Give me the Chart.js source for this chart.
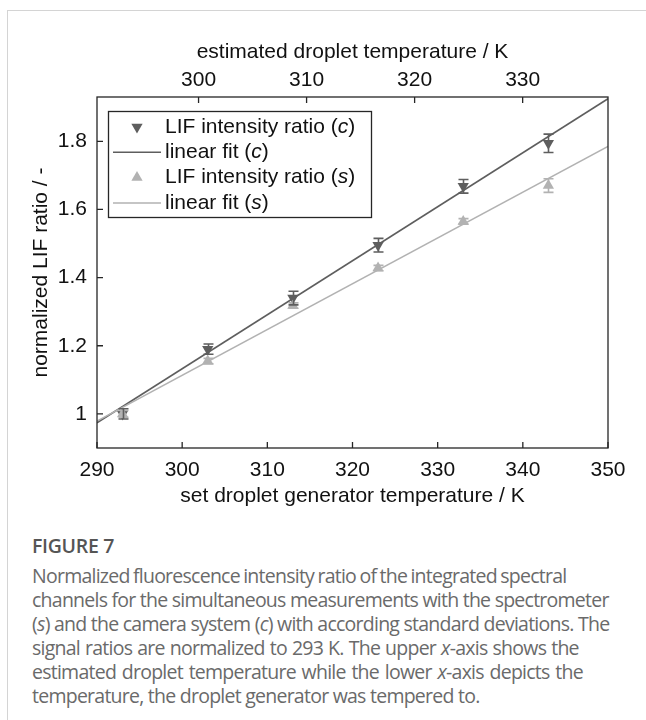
<!DOCTYPE html>
<html>
<head>
<meta charset="utf-8">
<script src="https://cdn.jsdelivr.net/npm/chart.js@4"></script>
<style>
  html, body { margin: 0; padding: 0; background: #fff; }
  #page { position: relative; width: 646px; height: 720px; overflow: hidden; }
  #card { position: absolute; left: 7px; top: 10px; right: -2px; bottom: -2px;
          border-left: 1px solid #d4d4d4; border-top: 1px solid #d4d4d4; }
  #wrap { position: absolute; left: 0; top: 0; width: 646px; height: 520px; }
  #caption { position: absolute; left: 32px; top: 534px; width: 610px;
             font-family: "Open Sans", sans-serif; color: #6a6a6a; font-size: 19.5px;
             line-height: 24px; letter-spacing: -0.75px; white-space: nowrap; }
  #caption .fig { color: #555; font-weight: 600; font-size: 19.5px; letter-spacing: -0.3px;
                  margin-bottom: 6px; }
  #caption .l1 { word-spacing: -1px; }
  #caption .l4 { word-spacing: 0.7px; }
  #caption .l5 { word-spacing: 1.4px; }
</style>
</head>
<body>
<div id="page">
  <div id="card"></div>
  <div id="wrap"><canvas id="fig7" width="646" height="520"></canvas></div>
  <div id="caption">
    <div class="fig">FIGURE 7</div>
    <div class="l1">Normalized fluorescence intensity ratio of the integrated spectral</div>
    <div>channels for the simultaneous measurements with the spectrometer</div>
    <div>(<i>s</i>) and the camera system (<i>c</i>) with according standard deviations. The</div>
    <div class="l4">signal ratios are normalized to 293 K. The upper <i>x</i>-axis shows the</div>
    <div class="l5">estimated droplet temperature while the lower <i>x</i>-axis depicts the</div>
    <div>temperature, the droplet generator was tempered to.</div>
  </div>
</div>
<script>
// set droplet generator temperature / K
const setTemps = [293, 303, 313, 323, 333, 343];

// camera system (c)
const ratioCam = [1.0, 1.19, 1.34, 1.495, 1.668, 1.794];
const errCam   = [0.015, 0.015, 0.02, 0.02, 0.02, 0.027];

// spectrometer (s)
const ratioSpec = [1.0, 1.155, 1.318, 1.428, 1.565, 1.67];
const errSpec   = [0.01, 0.008, 0.008, 0.008, 0.008, 0.02];

// linear fit end points at 290 K and 350 K
const fitX    = [290, 350];
const fitCam  = [0.974, 1.925];
const fitSpec = [0.979, 1.785];

const bottomTicks = [290, 300, 310, 320, 330, 340, 350];
const topTicks    = [300, 310, 320, 330];
const yTicks      = [1, 1.2, 1.4, 1.6, 1.8];

const DARK = '#5e5e5e';
const LIGHT = '#b2b2b2';
const AXIS = '#262626';
const FONT = '"Liberation Sans", Arial, sans-serif';

const pts = (xs, ys) => xs.map((x, i) => ({ x, y: ys[i] }));

// error bars + box frame with inward ticks + legend
const fig7Plugin = {
  id: 'fig7',
  afterDatasetsDraw(chart) {
    const { ctx, chartArea: a, scales } = chart;
    const x = scales.x, x2 = scales.x2, y = scales.y;

    // error bars
    const bars = [[ratioSpec, errSpec, LIGHT], [ratioCam, errCam, DARK]];
    ctx.save();
    ctx.lineWidth = 1.6;
    bars.forEach(([vals, errs, col]) => {
      ctx.strokeStyle = col;
      setTemps.forEach((t, i) => {
        const px = Math.round(x.getPixelForValue(t)) + 0.5;
        const top = y.getPixelForValue(vals[i] + errs[i]);
        const bot = y.getPixelForValue(vals[i] - errs[i]);
        ctx.beginPath();
        ctx.moveTo(px, top); ctx.lineTo(px, bot);
        ctx.moveTo(px - 5, top); ctx.lineTo(px + 5, top);
        ctx.moveTo(px - 5, bot); ctx.lineTo(px + 5, bot);
        ctx.stroke();
      });
    });
    ctx.restore();

    // frame and ticks
    ctx.save();
    ctx.strokeStyle = AXIS;
    ctx.lineWidth = 1.3;
    ctx.strokeRect(a.left, a.top, a.right - a.left, a.bottom - a.top);
    const tl = 6;
    ctx.beginPath();
    bottomTicks.forEach(v => {
      const px = x.getPixelForValue(v);
      ctx.moveTo(px, a.bottom); ctx.lineTo(px, a.bottom - tl);
    });
    topTicks.forEach(v => {
      const px = x2.getPixelForValue(v);
      ctx.moveTo(px, a.top); ctx.lineTo(px, a.top + tl);
    });
    yTicks.forEach(v => {
      const py = y.getPixelForValue(v);
      ctx.moveTo(a.left, py); ctx.lineTo(a.left + tl, py);
    });
    ctx.stroke();
    ctx.restore();

    // legend
    const L = 108, T = 111, W = 263, H = 106;
    ctx.save();
    ctx.fillStyle = '#fff';
    ctx.fillRect(L, T, W, H);
    ctx.strokeStyle = AXIS;
    ctx.lineWidth = 1.3;
    ctx.strokeRect(L + 0.5, T + 0.5, W, H);
    const rows = [
      { kind: 'down', col: DARK, text: 'LIF intensity ratio (', it: 'c' },
      { kind: 'line', col: DARK, text: 'linear fit (', it: 'c' },
      { kind: 'up', col: LIGHT, text: 'LIF intensity ratio (', it: 's' },
      { kind: 'line', col: LIGHT, text: 'linear fit (', it: 's' }
    ];
    ctx.textBaseline = 'middle';
    rows.forEach((r, i) => {
      const cy = T + 16 + i * 25.3;
      ctx.fillStyle = r.col;
      ctx.strokeStyle = r.col;
      if (r.kind === 'line') {
        ctx.lineWidth = 1.5;
        ctx.beginPath(); ctx.moveTo(113, cy); ctx.lineTo(161, cy); ctx.stroke();
      } else {
        const s = r.kind === 'down' ? 1 : -1, R = 6.5;
        ctx.beginPath();
        ctx.moveTo(137, cy + s * R);
        ctx.lineTo(137 - R * 0.866, cy - s * R / 2);
        ctx.lineTo(137 + R * 0.866, cy - s * R / 2);
        ctx.closePath(); ctx.fill();
      }
      ctx.fillStyle = '#111';
      ctx.font = '21px ' + FONT;
      let tx = 165;
      ctx.fillText(r.text, tx, cy);
      tx += ctx.measureText(r.text).width;
      ctx.font = 'italic 21px ' + FONT;
      ctx.fillText(r.it, tx, cy);
      tx += ctx.measureText(r.it).width;
      ctx.font = '21px ' + FONT;
      ctx.fillText(')', tx, cy);
    });
    ctx.restore();
  }
};

const tickFont = { family: FONT, size: 21 };
const noGrid = { display: false, drawTicks: false };

new Chart(document.getElementById('fig7'), {
  type: 'scatter',
  data: {
    datasets: [
      { label: 'linear fit (s)', type: 'line', data: pts(fitX, fitSpec), borderColor: LIGHT,
        borderWidth: 1.6, pointRadius: 0, xAxisID: 'x' },
      { label: 'linear fit (c)', type: 'line', data: pts(fitX, fitCam), borderColor: DARK,
        borderWidth: 1.6, pointRadius: 0, xAxisID: 'x' },
      { label: 'LIF intensity ratio (s)', data: pts(setTemps, ratioSpec), pointStyle: 'triangle',
        pointRadius: 6.5, backgroundColor: LIGHT, borderWidth: 0, xAxisID: 'x' },
      { label: 'LIF intensity ratio (c)', data: pts(setTemps, ratioCam), pointStyle: 'triangle',
        pointRotation: 180, pointRadius: 6.5, backgroundColor: DARK, borderWidth: 0, xAxisID: 'x' }
    ]
  },
  options: {
    responsive: false,
    animation: false,
    events: [],
    layout: { padding: { left: 0, right: 38, top: 0, bottom: 0 } },
    plugins: { legend: { display: false }, tooltip: { enabled: false } },
    scales: {
      x: {
        type: 'linear', position: 'bottom', min: 290, max: 350,
        afterBuildTicks: s => { s.ticks = bottomTicks.map(value => ({ value })); },
        afterFit: s => { s.height = 72; },
        grid: noGrid, border: { display: false },
        ticks: { font: tickFont, color: '#111', padding: 10 },
        title: { display: true, text: 'set droplet generator temperature / K',
                 font: tickFont, color: '#111', padding: { top: 0, bottom: 11 } }
      },
      x2: {
        type: 'linear', position: 'top', min: 290.6, max: 337.9,
        afterBuildTicks: s => { s.ticks = topTicks.map(value => ({ value })); },
        afterFit: s => { s.height = 97; },
        grid: noGrid, border: { display: false },
        ticks: { font: tickFont, color: '#111', padding: 4 },
        title: { display: true, text: 'estimated droplet temperature / K',
                 font: tickFont, color: '#111', padding: { top: 40, bottom: 0 } }
      },
      y: {
        type: 'linear', min: 0.9, max: 1.93,
        afterBuildTicks: s => { s.ticks = yTicks.map(value => ({ value })); },
        afterFit: s => { s.width = 97; },
        grid: noGrid, border: { display: false },
        ticks: { font: tickFont, color: '#111', padding: 10,
                 callback: v => String(Math.round(v * 10) / 10) },
        title: { display: true, text: 'normalized LIF ratio / -',
                 font: tickFont, color: '#111', padding: { top: 29, bottom: 0 } }
      }
    }
  },
  plugins: [fig7Plugin]
});
</script>
</body>
</html>
